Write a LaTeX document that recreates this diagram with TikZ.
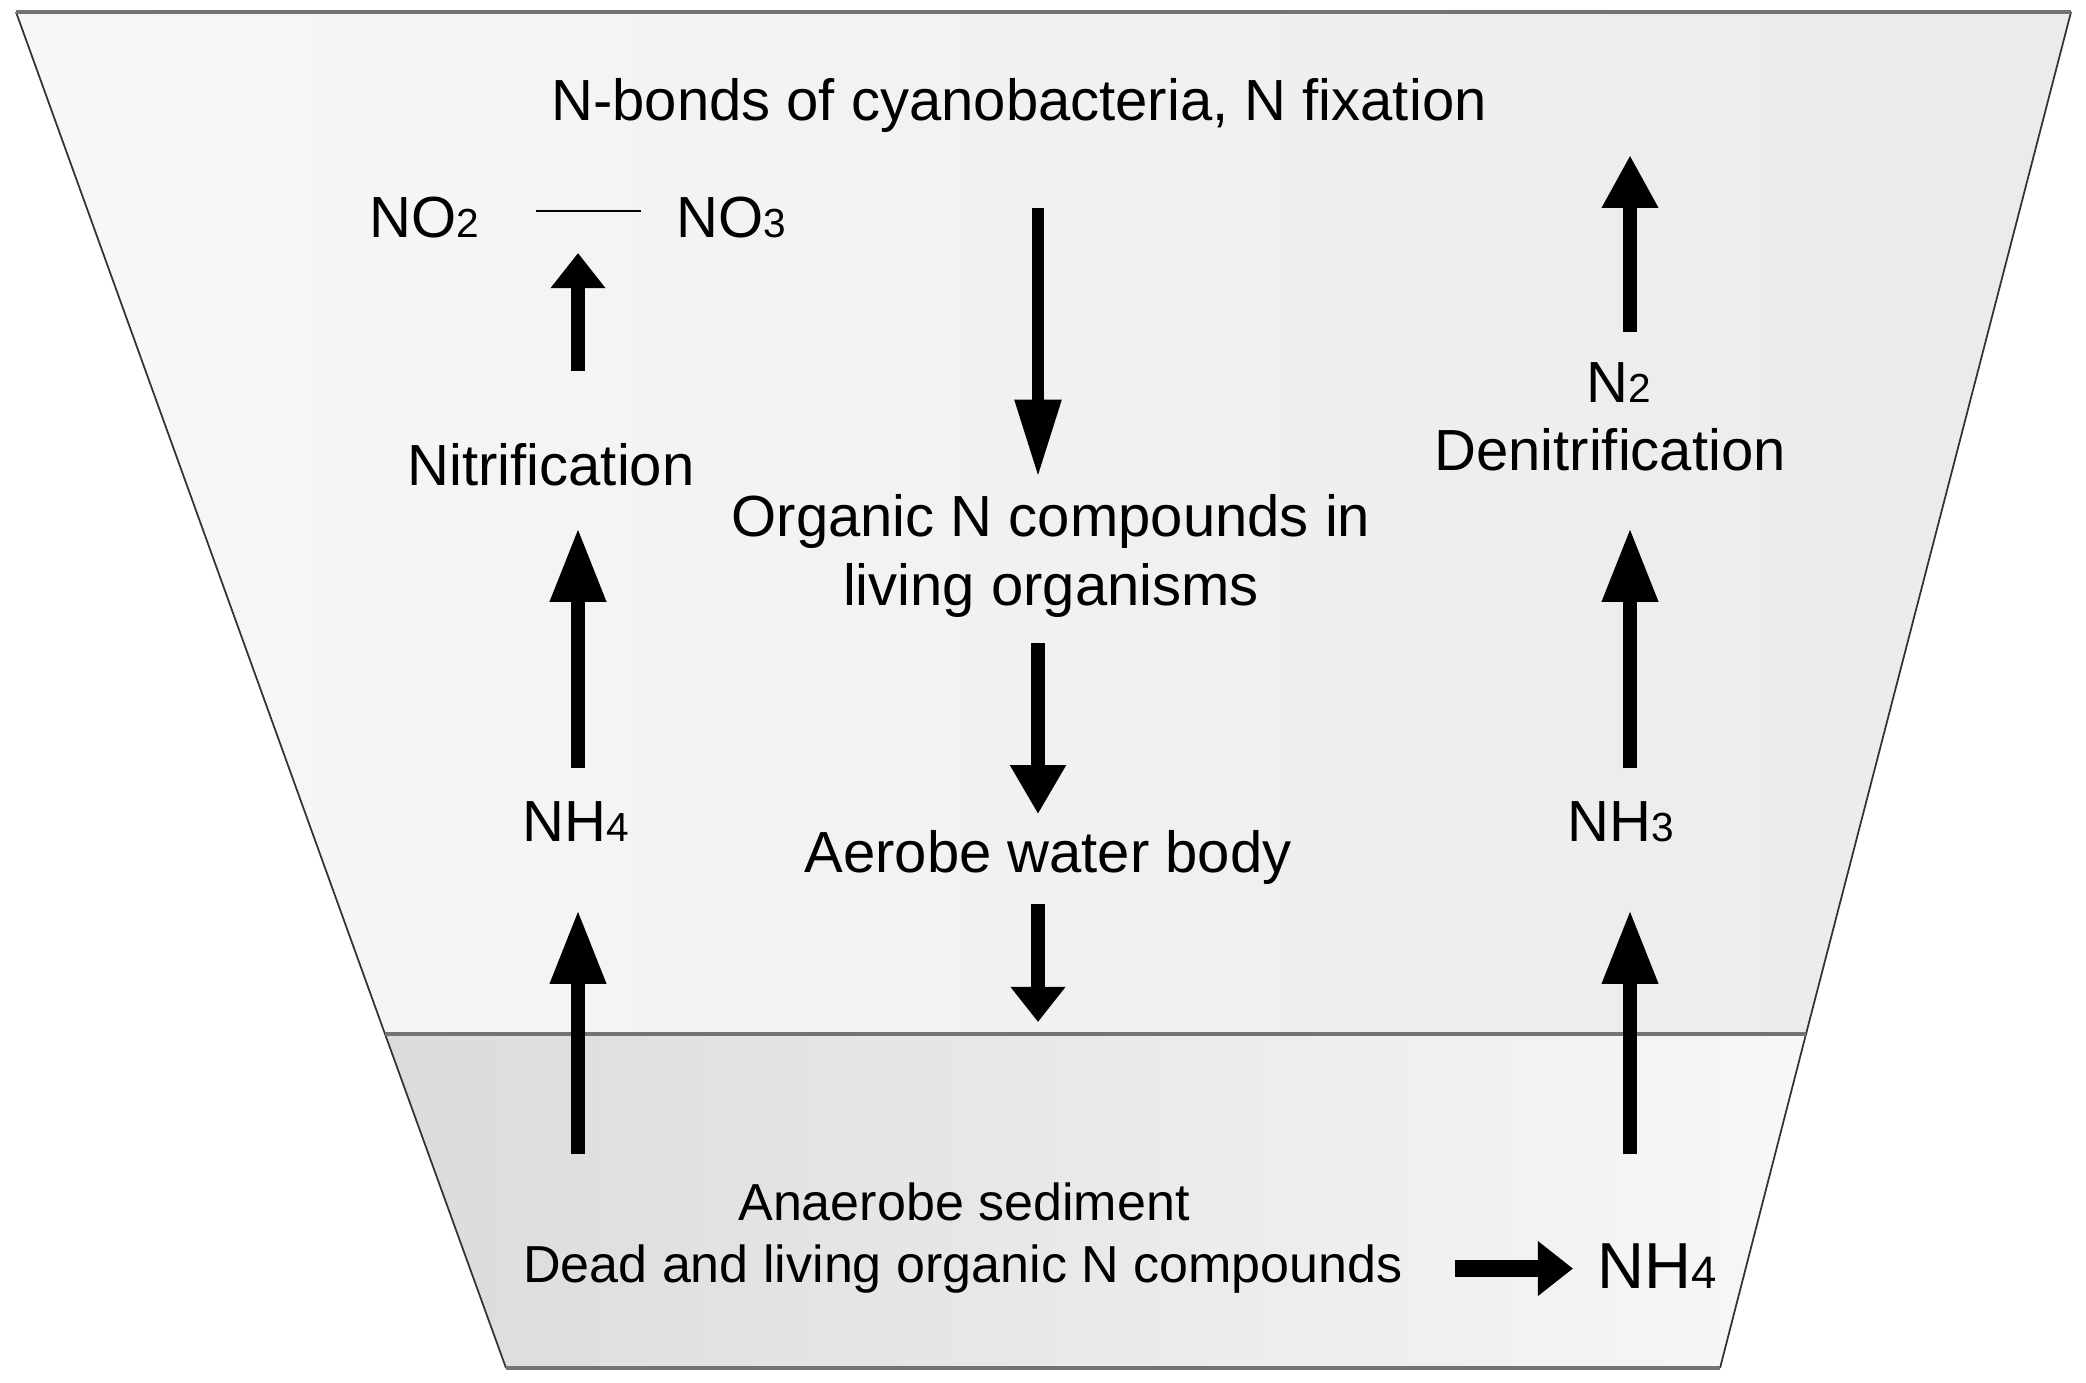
\documentclass[tikz,border=0pt]{standalone}
\usepackage{fontspec}
\setmainfont{Liberation Sans}
\usetikzlibrary{arrows.meta,calc}

% index digit sitting on the baseline, as in the figure
\newcommand{\lowidx}[1]{\scalebox{0.7}{#1}}

\tikzset{
	lbl/.style={font=\fontsize{16.5pt}{19.6pt}\selectfont, inner sep=0pt, anchor=base},
	sedlbl/.style={font=\fontsize{14.8pt}{17pt}\selectfont, inner sep=0pt, anchor=base},
	flow/.style={line width=4pt, -{Triangle[width=15pt,length=#1]}},
	flow/.default=21pt,
	rim/.style={draw=black!55, line width=1.3pt},
	side/.style={draw=black!80, line width=0.5pt},
}

\begin{document}
\begin{tikzpicture}[x=0.01cm, y=-0.01cm]
\useasboundingbox (0,0) rectangle (2086,1382);

% water body and sediment
\shade [left color=black!3, right color=black!8]
	(16,12) -- (2071,12) -- (1806,1034) -- (385,1034) -- cycle;
\shade [left color=black!14, right color=black!3]
	(385,1034) -- (1806,1034) -- (1720,1368) -- (506,1368) -- cycle;
\draw [side] (16,12) -- (385,1034) -- (506,1368);
\draw [side] (2071,12) -- (1806,1034) -- (1720,1368);
\draw [rim] (16,12) -- (2071,12);
\draw [rim] (385,1034) -- (1806,1034);
\draw [rim] (506,1368) -- (1720,1368);

% columns
\coordinate (leftcol) at (578,0);
\coordinate (midcol) at (1038,0);
\coordinate (rightcol) at (1630,0);
\coordinate (floor) at (1038,1022);

\node [lbl] (fix) at (1019,121) {N-bonds of cyanobacteria, N fixation};
\node [lbl] (no2) at (424,237) {NO\lowidx{2}};
\node [lbl] (no3) at (731,237) {NO\lowidx{3}};
\node [lbl] (nitri) at (551,485) {Nitrification};
\node [lbl] (nh4l) at (576,841) {NH\lowidx{4}};
\node [lbl, anchor=north, align=center] (org) at (1051,494) {Organic N compounds in\\living organisms};
\node [lbl] (aer) at (1048,872) {Aerobe water body};
\node [lbl] (n2) at (1619,402) {N\lowidx{2}};
\node [lbl] (denit) at (1610,470) {Denitrification};
\node [lbl] (nh3) at (1621,841) {NH\lowidx{3}};
\node [sedlbl] (sed) at (964,1220) {Anaerobe sediment};
\node [sedlbl] (dead) at (963,1282) {Dead and living organic N compounds};
\node [lbl, anchor=base west, font=\fontsize{18.5pt}{20pt}\selectfont] (bignh4) at (1597,1288) {NH\lowidx{4}};

\draw [line width=0.8pt] ($(no2.base east)+(56,-26)$) -- ($(no3.base west)+(-34,-26)$);

% nitrification side
\draw [flow=10pt, shorten <=0.71cm, shorten >=0.16cm] (leftcol |- nitri.north) -- (leftcol |- no2.base);
\draw [flow, shorten <=0.32cm, shorten >=0.43cm] (leftcol |- nh4l.north) -- (leftcol |- nitri.base);
\draw [flow, shorten <=0.28cm, shorten >=0.69cm] (leftcol |- sed.north) -- (leftcol |- nh4l.base);

% organisms
\draw [line width=3.4pt, -{Triangle[width=12.5pt,length=22pt]}, shorten <=0.74cm, shorten >=0.17cm]
	(midcol |- fix.south) -- (midcol |- org.north);
\draw [flow=14pt, shorten <=0.25cm, shorten >=0.15cm] (midcol |- org.south) -- (midcol |- aer.north);
\draw [flow=10pt, shorten <=0.19cm] (midcol |- aer.south) -- (floor);

% denitrification side
\draw [flow=15pt, shorten <=0.29cm, shorten >=0.34cm] (rightcol |- n2.north) -- (rightcol |- fix.base);
\draw [flow, shorten <=0.32cm, shorten >=0.58cm] (rightcol |- nh3.north) -- (rightcol |- denit.base);
\draw [flow, shorten <=0.28cm, shorten >=0.69cm] (rightcol |- sed.north) -- (rightcol |- nh3.base);

\draw [line width=4.8pt, -{Triangle[width=15pt,length=10pt]}, shorten <=0.51cm, shorten >=0.24cm]
	(dead.east) -- (dead.east -| bignh4.west);
\end{tikzpicture}
\end{document}
